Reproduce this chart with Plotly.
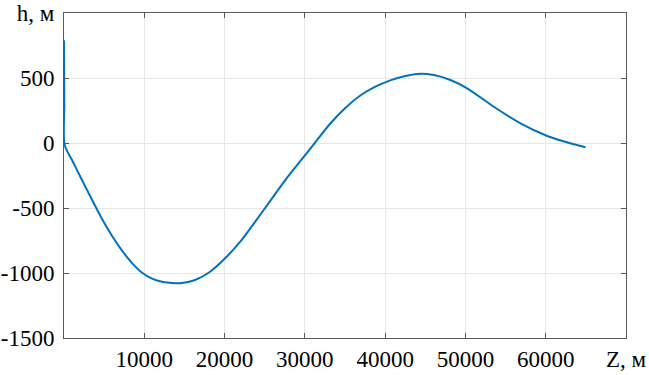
import plotly.graph_objects as go

# Data
z_m = [0, 40, 80, 1000, 2240, 3490, 4740, 5990, 7230, 8480, 9730, 10970,
       12220, 13880, 14460, 16330, 18200, 20070, 21950, 23820, 25690, 27560,
       29430, 31300, 33170, 35040, 36910, 38780, 40650, 42520, 43980, 46050,
       48130, 50210, 53530, 56860, 60190, 63510, 64960]
h_m = [790, 300, -15, -131, -285, -437, -585, -715, -828, -924, -998, -1043,
       -1068, -1079, -1079, -1054, -990, -887, -759, -605, -445, -285,
       -140, 5, 150, 270, 365, 433, 482, 515, 531, 523,
       485, 421, 279, 151, 54, -10, -33]

x_tickvals = [0, 10000, 20000, 30000, 40000, 50000, 60000, 70000]
x_ticktext = ["", "10000", "20000", "30000", "40000", "50000", "60000", "Z, м"]
y_tickvals = [-1500, -1000, -500, 0, 500, 1000]
y_ticktext = ["-1500", "-1000", "-500", "0", "500", "h, м"]

fig = go.Figure()
fig.add_trace(go.Scatter(x=z_m, y=h_m, mode="lines",
                         line=dict(color="#0072BD", width=2, shape="spline",
                                   smoothing=0.8),
                         showlegend=False, hoverinfo="skip"))

axis_common = dict(
    showgrid=True, gridcolor="#e6e6e6", gridwidth=1,
    showline=True, linecolor="#5a5a5a", linewidth=1, mirror="ticks",
    ticks="inside", ticklen=5, tickcolor="#5a5a5a",
    zeroline=False, automargin=False,
    tickfont=dict(family="Liberation Serif, Times New Roman, serif", size=23,
                  color="black"),
)

fig.update_layout(
    width=649, height=375,
    margin=dict(l=64, r=23, t=13, b=37),
    paper_bgcolor="white", plot_bgcolor="white",
    xaxis=dict(range=[0, 70000], tickmode="array", tickvals=x_tickvals,
               ticktext=x_ticktext, **axis_common),
    yaxis=dict(range=[-1500, 1000], tickmode="array", tickvals=y_tickvals,
               ticktext=y_ticktext, ticklabelstandoff=4, **axis_common),
)

fig.write_html("out.html",
               config={"displayModeBar": False},
               post_script="document.body.style.margin='0px';"
                           "document.body.style.overflow='hidden';")
